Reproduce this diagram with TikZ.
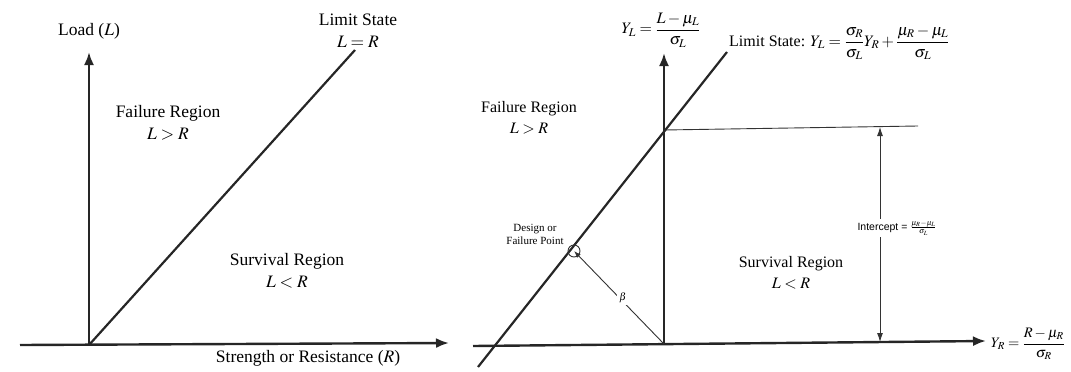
\documentclass[tikz,border=0pt]{standalone}
\usepackage{amsmath}
\usepackage{mathptmx}
\usepackage{fontspec}
\setmainfont{Liberation Serif}
\newfontfamily\smallsans{Liberation Sans}
\usetikzlibrary{arrows.meta,positioning}
\tikzset{
  axis/.style={line width=2.4pt, draw=black!85, -{Latex[length=13pt,width=10pt]}},
  limitline/.style={line width=2.2pt, draw=black!85},
  thinline/.style={line width=0.9pt, draw=black!80},
  icarrow/.style={thinline, {Latex[length=9pt,width=6pt]}-{Latex[length=9pt,width=6pt]}},
  betaarrow/.style={thinline, -{Latex[length=7pt,width=5pt]}},
  bigtext/.style={align=center, inner sep=1pt, font=\fontsize{17.5}{22}\selectfont},
  midtext/.style={align=center, inner sep=0pt, font=\fontsize{16}{21}\selectfont},
  tinytext/.style={align=center, inner sep=1pt, font=\fontsize{11}{13}\selectfont},
  sanstext/.style={align=center, inner sep=2pt, fill=white, font=\smallsans\fontsize{10.5}{12}\selectfont}
}
\begin{document}
\begin{tikzpicture}[x=1pt, y=-1pt]
  \useasboundingbox (0,0) rectangle (1071,372);
  % left panel
  \coordinate (o1) at (89,345);
  \coordinate (loadtip) at (89,52);
  \coordinate (rleft) at (20,345);
  \coordinate (rtip) at (449,343);
  \coordinate (lstop1) at (355,50);
  \draw[axis] (o1) -- (loadtip);
  \draw[axis] (rleft) -- (rtip);
  \draw[limitline] (o1) -- (lstop1);
  \node[bigtext] (load) at (89,31) {Load ($L$)};
  \node[bigtext] (limit1) at (358,31) {Limit State\\$L=R$};
  \node[bigtext] (fail1) at (168,123) {Failure Region\\$L>R$};
  \node[bigtext] (surv1) at (287,271) {Survival Region\\$L<R$};
  \node[bigtext] (strength) at (308,358) {Strength or Resistance ($R$)};
  % right panel
  \coordinate (o2) at (664,344);
  \coordinate (yltip) at (664,53);
  \coordinate (yrleft) at (473,346);
  \coordinate (yrtip) at (986,341);
  \coordinate (lsbot) at (478,367);
  \coordinate (lstop2) at (727,52);
  \coordinate (icpt) at (664,130);
  \coordinate (icend) at (918,126);
  \coordinate (ictop) at (880,127);
  \coordinate (icbot) at (880,342);
  \coordinate (dp) at (574,251);
  \draw[axis] (o2) -- (yltip);
  \draw[axis] (yrleft) -- (yrtip);
  \draw[limitline] (lsbot) -- (lstop2);
  \draw[thinline] (icpt) -- (icend);
  \draw[icarrow] (ictop) -- (icbot);
  \draw[thinline] (dp) circle (6);
  \draw[betaarrow] (o2) -- (dp);
  \node[sanstext] (beta) at (623,298) {$\beta$};
  \node[sanstext] (intercept) at (897,228) {Intercept = $\frac{\mu_R-\mu_L}{\sigma_L}$};
  \node[tinytext] (design) at (535,234) {Design or\\Failure Point};
  \node[midtext] (yl) at (661,30) {$Y_L=\dfrac{L-\mu_L}{\sigma_L}$};
  \node[midtext, anchor=west] (limit2) at (729,43) {Limit State: $Y_L=\dfrac{\sigma_R}{\sigma_L}Y_R+\dfrac{\mu_R-\mu_L}{\sigma_L}$};
  \node[midtext] (fail2) at (529,118) {Failure Region\\$L>R$};
  \node[midtext] (surv2) at (791,273) {Survival Region\\$L<R$};
  \node[midtext, anchor=west, font=\fontsize{14.5}{18}\selectfont] (yr) at (991,344) {$Y_R=\dfrac{R-\mu_R}{\sigma_R}$};
\end{tikzpicture}
\end{document}
